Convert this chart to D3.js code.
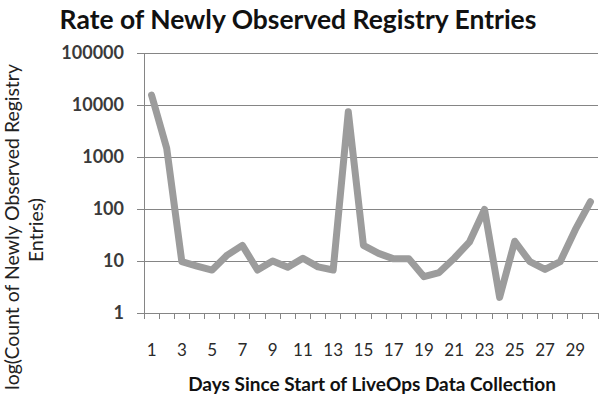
<!DOCTYPE html>
<html><head><meta charset="utf-8">
<script src="https://cdn.jsdelivr.net/npm/d3@7"></script>
<style>body{margin:0;background:#fff;} svg{display:block;}</style>
</head><body>
<svg id="c" width="600" height="399"></svg>
<script>
const days = d3.range(1, 31);
const counts = [15500, 1470, 9.7, 8, 6.7, 13, 20, 6.7, 10, 7.6, 11.3, 7.7, 6.7, 7400, 20, 14, 11, 11, 5, 6, 11.3, 23, 98, 2, 24, 9.7, 6.9, 9.7, 40, 138];
const yTicks = [1, 10, 100, 1000, 10000, 100000];
const xTickLabels = [1, 3, 5, 7, 9, 11, 13, 15, 17, 19, 21, 23, 25, 27, 29];
const title = "Rate of Newly Observed Registry Entries";
const xTitle = "Days Since Start of LiveOps Data Collection";
const yTitle = ["log(Count of Newly Observed Registry", "Entries)"];

const svg = d3.select("#c");
const L = 144, R = 598, T = 53, B = 313;
const font = "Lato, 'Open Sans', sans-serif";

const x = d3.scaleBand().domain(days).range([L, R]).padding(0);
const y = d3.scaleLog().domain([1, 100000]).range([B, T]);

function fit(sel, w) {
  const n = sel.node();
  const fs = parseFloat(sel.attr("font-size"));
  const len = n.getComputedTextLength();
  sel.attr("font-size", fs * w / len);
}

// gridlines
svg.append("g").selectAll("line").data(yTicks).join("line")
  .attr("x1", L - 7).attr("x2", R).attr("y1", d => y(d)).attr("y2", d => y(d))
  .attr("stroke", "#858585").attr("stroke-width", 1).attr("shape-rendering", "crispEdges");

// y axis line
svg.append("line").attr("x1", L).attr("x2", L).attr("y1", T).attr("y2", B)
  .attr("stroke", "#858585").attr("shape-rendering", "crispEdges");

// x axis ticks
const xb = d3.range(0, 31).map(i => L + i * x.bandwidth());
svg.append("g").selectAll("line").data(xb).join("line")
  .attr("x1", d => d).attr("x2", d => d).attr("y1", B).attr("y2", B + 6)
  .attr("stroke", "#858585").attr("shape-rendering", "crispEdges");

// y labels
svg.append("g").selectAll("text").data(yTicks).join("text")
  .attr("x", 124).attr("y", d => y(d) + 6).attr("text-anchor", "end")
  .attr("font-family", font).attr("font-size", 18).attr("font-weight", "bold")
  .attr("fill", "#3a3a3a").text(d => d);

// x labels
svg.append("g").selectAll("text").data(xTickLabels).join("text")
  .attr("x", d => x(d) + x.bandwidth() / 2).attr("y", 356).attr("text-anchor", "middle")
  .attr("font-family", font).attr("font-size", 17)
  .attr("fill", "#2a2a2a").text(d => d);

// line
const line = d3.line().x((d, i) => x(days[i]) + x.bandwidth() / 2).y(d => y(d));
svg.append("path").datum(counts).attr("d", line)
  .attr("fill", "none").attr("stroke", "#9c9c9c").attr("stroke-width", 7)
  .attr("stroke-linejoin", "round").attr("stroke-linecap", "round");

// title
const t = svg.append("text").attr("x", 298).attr("y", 29).attr("text-anchor", "middle")
  .attr("font-family", font).attr("font-size", 28).attr("font-weight", "bold")
  .attr("fill", "#111").text(title);
fit(t, 477);

// x title
const xt = svg.append("text").attr("x", 372).attr("y", 391).attr("text-anchor", "middle")
  .attr("font-family", font).attr("font-size", 18).attr("font-weight", "bold")
  .attr("fill", "#111").text(xTitle);
fit(xt, 368);

// y title
const yt1 = svg.append("text").attr("transform", "translate(19,227) rotate(-90)")
  .attr("text-anchor", "middle").attr("font-family", font).attr("font-size", 18)
  .attr("fill", "#222").text(yTitle[0]);
fit(yt1, 326);
svg.append("text").attr("transform", "translate(43,230) rotate(-90)")
  .attr("text-anchor", "middle").attr("font-family", font).attr("font-size", yt1.attr("font-size"))
  .attr("fill", "#222").text(yTitle[1]);
</script>
</body></html>
